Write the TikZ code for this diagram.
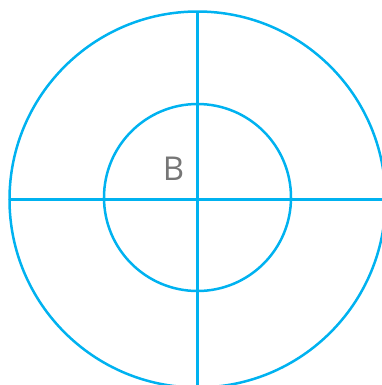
\documentclass[tikz,border=0pt]{standalone}
\usepackage{fontspec}
\setmainfont{Open Sans}
\definecolor{lineblue}{RGB}{0,178,240}
\definecolor{labelgray}{RGB}{118,118,118}
\begin{document}
\begin{tikzpicture}[x=1bp,y=-1bp,
  stroke/.style={draw=lineblue,line width=2.5bp},
  lbl/.style={text=labelgray,font=\fontsize{33}{33}\selectfont,inner sep=0pt,anchor=center}]
\useasboundingbox (0,0) rectangle (382,385);
\clip (0,0) rectangle (382,385);
\coordinate (c) at (197.5,199.5);
\coordinate (s) at (197.5,197.5);
\coordinate (l) at (9.5,199.5);
\coordinate (r) at (385.5,199.5);
\coordinate (t) at (197.5,11.5);
\coordinate (b) at (197.5,387.5);
\draw[stroke] (c) circle[radius=188];
\draw[stroke] (s) circle[radius=93.5];
\draw[stroke] (l) -- (r);
\draw[stroke] (t) -- (b);
\node[lbl] (B) at (173.5,169) {B};
\end{tikzpicture}
\end{document}
